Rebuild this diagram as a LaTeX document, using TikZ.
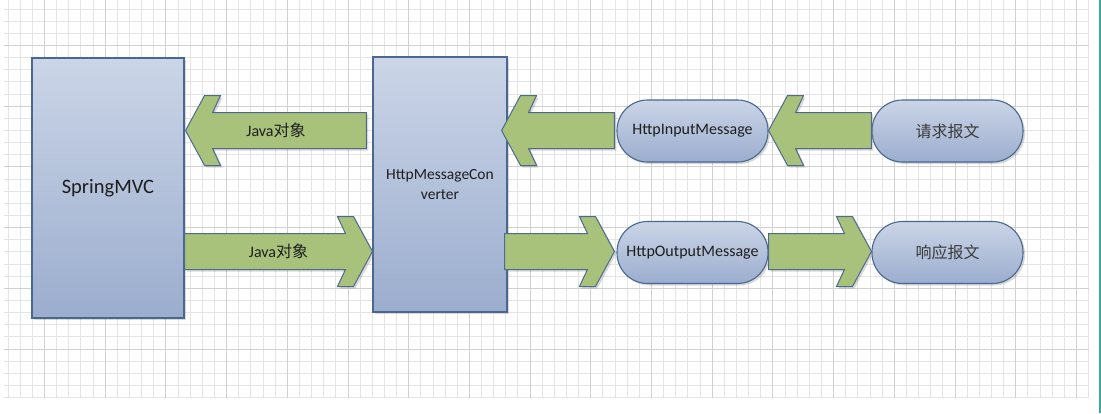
\documentclass[tikz,border=0pt]{standalone}
\usepackage{fontspec}
\setmainfont{Carlito}
\newfontfamily\cjk{Noto Sans CJK SC}
\usetikzlibrary{shadows,calc}

\definecolor{gridminor}{HTML}{E4E4E4}
\definecolor{gridmajor}{HTML}{D0D0D0}
\definecolor{boxtop}{HTML}{CBD5E7}
\definecolor{boxbot}{HTML}{9BADCE}
\definecolor{boxline}{HTML}{4A6791}
\definecolor{arrowfill}{HTML}{A8C27B}
\definecolor{arrowline}{HTML}{4E6A8C}
\definecolor{txt}{HTML}{1E1E1E}
\definecolor{cjktxt}{HTML}{3A3A3A}
\definecolor{edge}{HTML}{3FA59A}

\tikzset{
  block/.style={rectangle, draw=boxline, line width=1.1pt,
    top color=boxtop, bottom color=boxbot, inner sep=0pt,
    drop shadow={opacity=0.3, shadow xshift=2pt, shadow yshift=-2pt},
    text=txt, align=center},
  pill/.style={block, rounded corners=30.5pt, minimum width=151pt,
    minimum height=62pt, font=\fontsize{16}{19}\selectfont},
  cjkpill/.style={pill, text=cjktxt, font=\cjk\fontsize{16}{19}\selectfont},
  fat/.style={draw=arrowline, line width=1pt, fill=arrowfill,
    line join=miter,
    drop shadow={opacity=0.3, shadow xshift=2pt, shadow yshift=-2pt}},
  fatlabel/.style={text=txt, font=\fontsize{16}{19}\selectfont},
}

% wide arrow: #1 tail, #2 tip, #3 direction (1 = right, -1 = left), #4 label
\newcommand\fatarrow[4]{%
  \draw[fat] let \p1=#1, \p2=#2 in
    (\x1,\y2+18pt) -- ({\x2-(#3)*27pt},\y2+18pt)
    -- ({\x2-(#3)*35pt},\y2+35pt) -- ({\x2-(#3)*19pt},\y2+35pt)
    -- (\x2,\y2)
    -- ({\x2-(#3)*19pt},\y2-35pt) -- ({\x2-(#3)*35pt},\y2-35pt)
    -- ({\x2-(#3)*27pt},\y2-18pt) -- (\x1,\y2-18pt) -- cycle;
  \path let \p1=#1, \p2=#2 in
    node[fatlabel] at ({(\x1+\x2)/2},\y2) {#4};
}

\begin{document}
\begin{tikzpicture}[x=1pt, y=-1pt]
  \useasboundingbox[fill=white] (0,0) rectangle (1101,413);

  % background grid
  \foreach \k in {0,...,89}
    \draw[gridminor, line width=0.8pt] ({8+12.14*\k},0) -- ({8+12.14*\k},397.5);
  \foreach \k in {0,...,32}
    \draw[gridminor, line width=0.8pt] (4,{9+12.14*\k}) -- (1088.5,{9+12.14*\k});
  \foreach \k in {3,8,...,88}
    \draw[gridmajor, line width=0.8pt] ({8+12.14*\k},0) -- ({8+12.14*\k},397.5);
  \foreach \k in {3,8,...,28}
    \draw[gridmajor, line width=0.8pt] (4,{9+12.14*\k}) -- (1088.5,{9+12.14*\k});

  % window edge
  \draw[edge, line width=2pt] (1100,0) -- (1100,413);

  % rows of the message flow
  \coordinate (rowtop) at (0,130.5);
  \coordinate (rowbot) at (0,251.5);

  % boxes
  \node[block, minimum width=152pt, minimum height=260pt,
        font=\fontsize{20.5}{24}\selectfont] (mvc) at (108,188) {SpringMVC};
  \node[block, minimum width=134pt, minimum height=255pt,
        font=\fontsize{15.5}{19.5}\selectfont] (conv) at (440,184.5)
        {HttpMessageCon\\verter};
  \node[pill] (in)  at (692.5,131)   {HttpInputMessage};
  \node[pill] (out) at (692.5,252.5) {HttpOutputMessage};
  \node[cjkpill] (req)  at (947.5,131)   {请求报文};
  \node[cjkpill] (resp) at (947.5,252.5) {响应报文};

  % arrows
  \fatarrow{([xshift=-6pt]conv.west |- rowtop)}{([xshift=1pt]mvc.east |- rowtop)}{-1}{Java{\cjk 对象}}
  \fatarrow{(mvc.east |- rowbot)}{(conv.west |- rowbot)}{1}{Java{\cjk 对象}}
  \fatarrow{([xshift=-2pt]in.west |- rowtop)}{([xshift=-6pt]conv.east |- rowtop)}{-1}{}
  \fatarrow{([xshift=-3pt]conv.east |- rowbot)}{([xshift=-2pt]out.west |- rowbot)}{1}{}
  \fatarrow{(req.west |- rowtop)}{(in.east |- rowtop)}{-1}{}
  \fatarrow{(out.east |- rowbot)}{(resp.west |- rowbot)}{1}{}
\end{tikzpicture}
\end{document}
